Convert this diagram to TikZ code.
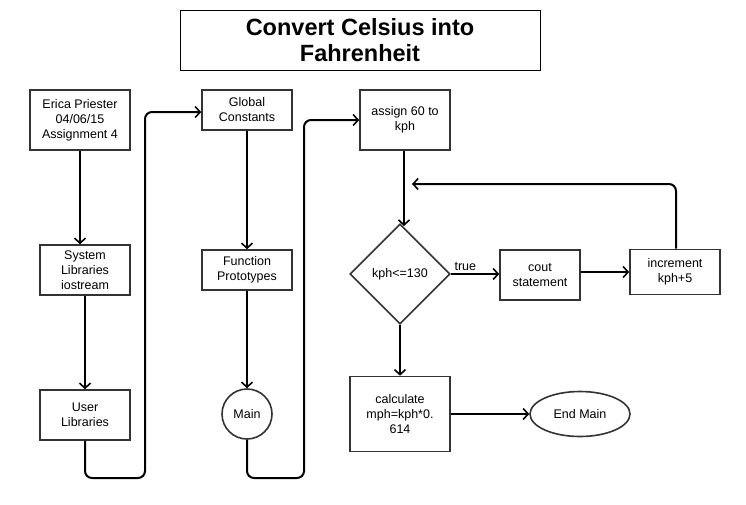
\documentclass[tikz,border=0pt]{standalone}
\usepackage{fontspec}
\setmainfont{Liberation Sans}
\usetikzlibrary{shapes.geometric,arrows.meta}
\begin{document}
\begin{tikzpicture}[x=1pt,y=-1pt,
  box/.style={draw=black!80,line width=1.6pt,minimum width=#1,inner sep=0pt,align=center,font=\fontsize{12.5}{15}\selectfont},
  conn/.style={line width=2pt,rounded corners=7pt,-{Straight Barb[length=5pt,width=11pt,line width=1.6pt]}},
  lbl/.style={font=\fontsize{12.5}{15}\selectfont}]
\useasboundingbox (0,0) rectangle (746,504);
\node[draw=black,line width=1pt,minimum width=360,minimum height=60,inner sep=0pt,align=center,font=\fontsize{23.5}{26}\selectfont\bfseries] (title) at (360,40) {Convert Celsius into\\Fahrenheit};

\node[box=100,minimum height=60] (erica) at (80,120) {Erica Priester\\04/06/15\\Assignment 4};
\node[box=90,minimum height=50] (sys) at (85,270) {System\\Libraries\\iostream};
\node[box=90,minimum height=50] (user) at (85,415) {User\\Libraries};
\node[box=90,minimum height=40] (glob) at (247,110) {Global\\Constants};
\node[box=90,minimum height=40] (func) at (247,270) {Function\\Prototypes};
\node[draw=black!80,line width=1.6pt,circle,minimum size=50,inner sep=0pt,font=\fontsize{12.5}{15}\selectfont] (main) at (247,414) {Main};
\node[box=90,minimum height=60] (assign) at (405,120) {assign 60 to\\kph};
\node[draw=black!80,line width=1.6pt,diamond,minimum width=100,minimum height=100,inner sep=0pt,font=\fontsize{12.5}{15}\selectfont] (dec) at (400,274) {kph<=130};
\node[box=80,minimum height=50] (cout) at (540,275) {cout\\statement};
\node[box=90,minimum height=45] (inc) at (675,272) {increment\\kph+5};
\node[box=100,minimum height=75] (calc) at (400,414) {calculate\\mph=kph*0.\\614};
\node[draw=black!80,line width=1.6pt,ellipse,minimum width=100,minimum height=45,inner sep=0pt,font=\fontsize{12.5}{15}\selectfont] (endm) at (580,414) {End Main};

\coordinate (loopend) at (412,184);

\draw[conn] (erica.south) -- (erica.south |- sys.north);
\draw[conn] (sys.south) -- (user.north);
\draw[conn] (user.south) -- (85,478) -- (145,478) -- (145,112) -- (glob.west |- 0,112);
\draw[conn] (glob.south) -- (func.north);
\draw[conn] (func.south) -- (main.north);
\draw[conn] (main.south) -- (247,478) -- (304,478) -- (304,120) -- (assign.west);
\draw[conn] (assign.south -| 404,0) -- (404,226);
\draw[conn] (dec.east) -- (cout.west |- dec.east) node[lbl,pos=0.3,above=-1pt] {true};
\draw[conn] (cout.east |- 0,272) -- (inc.west |- 0,272);
\draw[conn] (inc.north -| 676,0) -- (676,184) -- (loopend);
\draw[conn] (dec.south) -- (calc.north);
\draw[conn] (calc.east) -- (endm.west);
\end{tikzpicture}
\end{document}
